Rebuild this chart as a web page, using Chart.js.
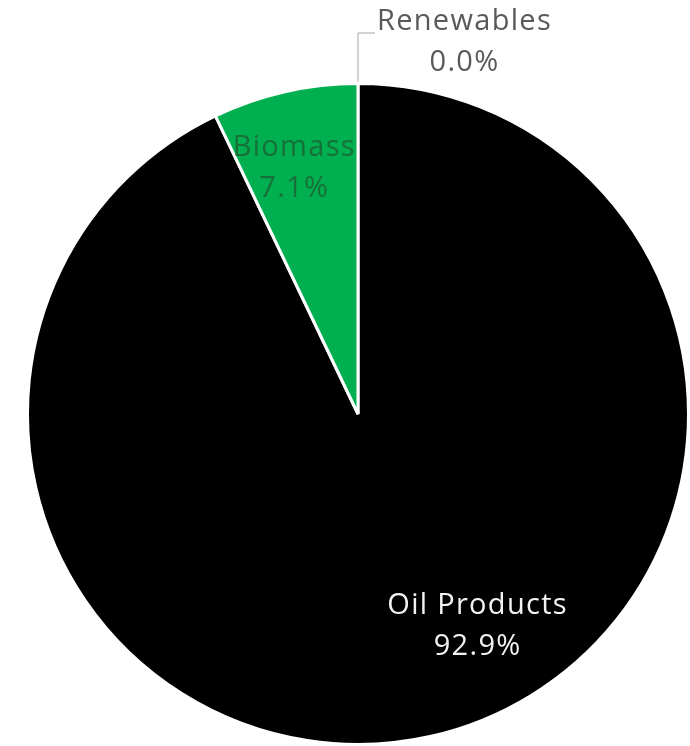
<!DOCTYPE html>
<html lang="en">
  <head>
    <meta charset="UTF-8" />
    <title>Energy share pie</title>
    <script src="https://cdn.jsdelivr.net/npm/chart.js"></script>
    <style>
      html, body { margin: 0; padding: 0; background: #fff; }
      #wrap { width: 690px; height: 746px; }
    </style>
  </head>
  <body>
    <div id="wrap"><canvas id="myChart" width="690" height="746"></canvas></div>
    <script>
      // shares (percent)
      const labels = ["Oil Products", "Biomass", "Renewables"];
      const shares = [92.9, 7.1, 0.0];
      const colors = ["#000000", "#00B050", "#7F7F7F"];

      // where each data label sits, relative to the pie (angle from 12 o'clock, fraction of radius)
      const labelSpots = [
        { angle: 150.5, dist: 0.735, color: "#f2f2f2" },
        { angle: -14.5, dist: 0.77, color: "rgba(25,105,55,0.9)" },
        { leader: true, color: "#595959" },
      ];

      const FONT = "29px 'Open Sans', Lato, sans-serif";

      const dataLabels = {
        id: "dataLabels",
        afterDatasetsDraw(chart) {
          const ctx = chart.ctx;
          const meta = chart.getDatasetMeta(0);
          ctx.save();
          ctx.font = FONT;
          ctx.letterSpacing = "1.3px";
          ctx.textBaseline = "middle";
          meta.data.forEach((arc, i) => {
            const spot = labelSpots[i];
            const txt = shares[i].toFixed(1) + "%";
            const { x, y, outerRadius, startAngle } = arc.getProps(["x", "y", "outerRadius", "startAngle"], true);
            ctx.fillStyle = spot.color;
            if (spot.leader) {
              // leader line from the zero slice edge up and to the right
              const px = x + Math.cos(startAngle) * outerRadius;
              const py = y + Math.sin(startAngle) * outerRadius;
              ctx.strokeStyle = "#a6a6a6";
              ctx.lineWidth = 1;
              ctx.beginPath();
              ctx.moveTo(px, py - 2);
              ctx.lineTo(px, 33);
              ctx.lineTo(px + 17, 33);
              ctx.stroke();
              ctx.textAlign = "left";
              ctx.fillText(labels[i], px + 19, 22);
              const w = ctx.measureText(labels[i]).width;
              ctx.textAlign = "center";
              ctx.fillText(txt, px + 19 + w / 2, 63);
              return;
            }
            const a = (spot.angle - 90) * Math.PI / 180;
            const cx = x + Math.cos(a) * outerRadius * spot.dist;
            const cy = y + Math.sin(a) * outerRadius * spot.dist;
            ctx.textAlign = "center";
            ctx.fillText(labels[i], cx, cy - 20);
            ctx.fillText(txt, cx, cy + 21);
          });
          ctx.restore();
        },
      };

      new Chart(document.getElementById("myChart"), {
        type: "pie",
        data: {
          labels: labels,
          datasets: [
            {
              data: shares,
              backgroundColor: colors,
              borderColor: "#ffffff",
              borderWidth: 3,
            },
          ],
        },
        options: {
          responsive: false,
          animation: false,
          layout: { padding: { left: 26, right: 0, top: 82, bottom: 0 } },
          plugins: {
            legend: { display: false },
            tooltip: { enabled: false },
          },
        },
        plugins: [dataLabels],
      });
    </script>
  </body>
</html>
